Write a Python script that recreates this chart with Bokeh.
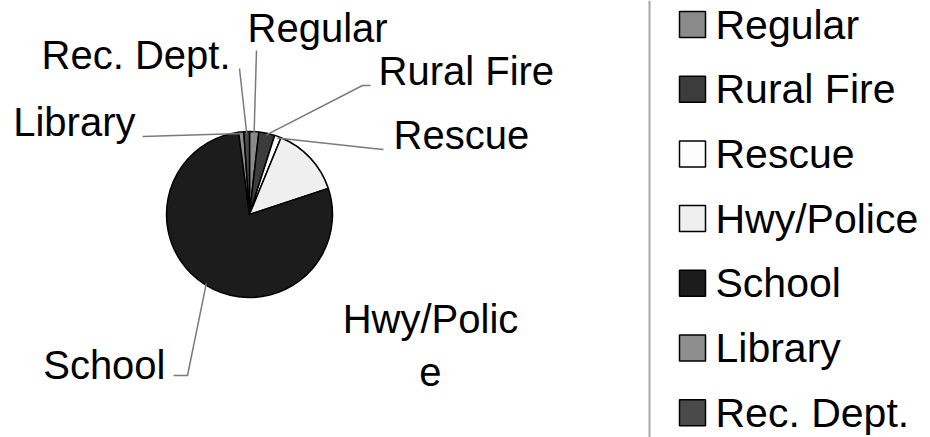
import math
from bokeh.plotting import figure
from bokeh.models import Range1d, ColumnDataSource, Span
from bokeh.core.properties import value
from bokeh.embed import file_html
from bokeh.resources import INLINE

# ---- data ----
categories = ["Regular", "Rural Fire", "Rescue", "Hwy/Police", "School", "Library", "Rec. Dept."]
shares = [1.8, 3.1, 1.3, 13.7, 78.0, 1.0, 1.1]
colors = ["#8a8a8a", "#3c3c3c", "#fdfdfd", "#efefef", "#1c1c1c", "#8e8e8e", "#4a4a4a"]

# ---- layout (reference pixel space; data y = -pixel y) ----
W, H = 930, 437
CX, CY, R = 249, 214, 83
FONT = value("Liberation Sans")
FS = "40px"

p = figure(width=W, height=H, output_backend="svg", toolbar_location=None,
           x_range=Range1d(0, W), y_range=Range1d(-H, 0),
           min_border=0, outline_line_color=None)
p.axis.visible = False
p.grid.visible = False
p.background_fill_color = "white"
p.border_fill_color = "white"

# pie wedges, clockwise from 12 o'clock
total = sum(shares)
starts, ends, mids = [], [], []
cum = 0.0
for s in shares:
    a0 = math.pi / 2 - 2 * math.pi * cum / total
    cum += s
    a1 = math.pi / 2 - 2 * math.pi * cum / total
    starts.append(a0)
    ends.append(a1)
    mids.append((a0 + a1) / 2)

src = ColumnDataSource(dict(cat=categories, start=starts, end=ends, color=colors))
p.wedge(x=CX, y=-CY, radius=R, start_angle="start", end_angle="end", direction="clock",
        fill_color="color", line_color="black", line_width=1.5, source=src)

# data labels with leader lines
label_pos = {
    "Regular": (247, 27, "left"),
    "Rural Fire": (378, 70, "left"),
    "Rescue": (393, 134, "left"),
    "Hwy/Police": (430, 345, "center"),
    "School": (165, 364, "right"),
    "Library": (135, 121, "right"),
    "Rec. Dept.": (230, 54, "right"),
}
leader_pts = {
    "Regular": [(256, 50)],
    "Rural Fire": [(370, 85), (362, 85)],
    "Rescue": [(383, 149), (373, 148)],
    "Hwy/Police": [],
    "School": [(173, 375), (187, 375)],
    "Library": [(142, 136)],
    "Rec. Dept.": [(239, 68)],
}
label_text = {"Hwy/Police": "Hwy/Polic\ne"}

xs, ys = [], []
for cat, m in zip(categories, mids):
    pts = leader_pts[cat]
    if not pts:
        continue
    ex = CX + R * 0.98 * math.cos(m)
    ey = CY - R * 0.98 * math.sin(m)
    xs.append([x for x, _ in pts] + [ex])
    ys.append([-y for _, y in pts] + [-ey])
p.multi_line(xs=xs, ys=ys, line_color="#7a7a7a", line_width=1.5)

for cat in categories:
    x, y, al = label_pos[cat]
    p.text(x=[x], y=[-y], text=[label_text.get(cat, cat)], text_align=al,
           text_baseline="alphabetic", text_font=FONT, text_font_size=FS,
           text_color="black", text_line_height=1.2)

# legend (manual, Excel style) with separator line
p.add_layout(Span(location=649, dimension="height", line_color="#a8a8a8", line_width=2))
leg_top, leg_pitch = 24, 64.7
leg_y = [-(leg_top + i * leg_pitch) for i in range(len(categories))]
p.scatter(x=[692] * len(categories), y=leg_y, marker="square", size=26,
          fill_color=colors, line_color="black", line_width=1.5)
p.text(x=[715] * len(categories), y=leg_y, text=categories, text_align="left",
       text_baseline="middle", text_font=FONT, text_font_size="41px", text_color="black")

open("out.html", "w").write(file_html(p, INLINE))
